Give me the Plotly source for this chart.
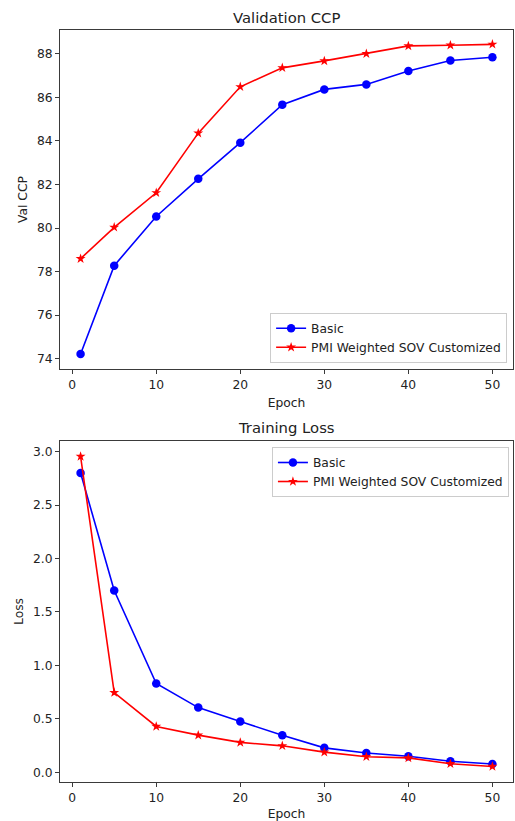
import plotly.graph_objects as go

epochs = [1, 5, 10, 15, 20, 25, 30, 35, 40, 45, 50]
val_basic = [74.21, 78.27, 80.53, 82.26, 83.92, 85.67, 86.37, 86.60, 87.22, 87.70, 87.85]
val_pmi = [78.59, 80.03, 81.62, 84.36, 86.49, 87.36, 87.68, 88.01, 88.37, 88.40, 88.44]
loss_basic = [2.80, 1.70, 0.83, 0.605, 0.475, 0.345, 0.228, 0.18, 0.15, 0.103, 0.077]
loss_pmi = [2.955, 0.745, 0.428, 0.347, 0.279, 0.247, 0.188, 0.145, 0.134, 0.08, 0.054]
names = ["Basic", "PMI Weighted SOV Customized"]
x_ticks = [0, 10, 20, 30, 40, 50]

W, H = 515, 821
ml, mr, mt, mb = 60, 2, 30, 39
ph = H - mt - mb
top_dom = [(782 - 369) / ph, 1.0]
bot_dom = [0.0, (782 - 441) / ph]

font = "DejaVu Sans"
axis_col = "#3a3a3a"
fs = 12.3
tfs = 14.8

fig = go.Figure()

def add(y, name, color, symbol, xa, ya, leg, size):
    fig.add_trace(go.Scatter(
        x=epochs, y=y, name=name, mode="lines+markers",
        line=dict(color=color, width=1.6),
        marker=dict(color=color, symbol=symbol, size=size, line=dict(width=0)),
        xaxis=xa, yaxis=ya, legend=leg))

add(val_basic, names[0], "blue", "circle", "x", "y", "legend", 8.5)
add(val_pmi, names[1], "red", "star", "x", "y", "legend", 7.5)
add(loss_basic, names[0], "blue", "circle", "x2", "y2", "legend2", 8.5)
add(loss_pmi, names[1], "red", "star", "x2", "y2", "legend2", 7.5)

ax_common = dict(showline=True, linecolor=axis_col, linewidth=1, mirror=True,
                 ticks="outside", ticklen=4, tickcolor=axis_col, tickwidth=1,
                 showgrid=False, zeroline=False,
                 tickfont=dict(family=font, size=fs, color="#222"))

leg_common = dict(bgcolor="rgba(255,255,255,0.85)", bordercolor="#cccccc", borderwidth=1,
                  font=dict(family=font, size=fs, color="#222"),
                  tracegroupgap=0, itemwidth=30)

fig.update_layout(
    width=W, height=H,
    margin=dict(l=ml, r=mr, t=mt, b=mb),
    plot_bgcolor="white", paper_bgcolor="white",
    font=dict(family=font, size=fs, color="#222"),
    xaxis=dict(ax_common, domain=[0, 1], anchor="y", range=[-1.45, 52.45],
               tickvals=x_ticks,
               title=dict(text="Epoch", standoff=7, font=dict(size=fs))),
    yaxis=dict(ax_common, domain=top_dom, anchor="x", range=[73.52, 89.1],
               dtick=2, title=dict(text="Val CCP", standoff=6, font=dict(size=fs))),
    xaxis2=dict(ax_common, domain=[0, 1], anchor="y2", range=[-1.45, 52.45],
                tickvals=x_ticks,
                title=dict(text="Epoch", standoff=7, font=dict(size=fs))),
    yaxis2=dict(ax_common, domain=bot_dom, anchor="x2", range=[-0.0915, 3.1],
                dtick=0.5, tickformat=".1f",
                title=dict(text="Loss", standoff=6, font=dict(size=fs))),
    legend=dict(leg_common, x=0.987, y=(782 - 362.7) / ph, xanchor="right", yanchor="bottom"),
    legend2=dict(leg_common, x=0.991, y=(782 - 447) / ph, xanchor="right", yanchor="top"),
    annotations=[
        dict(text="Validation CCP", x=0.5, xref="paper", y=17, yref="paper",
             showarrow=False, font=dict(family=font, size=tfs, color="#222")),
        dict(text="Training Loss", x=0.5, xref="paper", y=427, yref="paper",
             showarrow=False, font=dict(family=font, size=tfs, color="#222")),
    ],
)

# convert pixel y of titles into paper coords
for a in fig.layout.annotations:
    a.y = (H - mb - a.y) / ph
    a.yanchor = "middle"

fig.write_html("out.html", config={"displayModeBar": False},
               post_script="document.body.style.margin='0';document.body.style.overflow='hidden';")
